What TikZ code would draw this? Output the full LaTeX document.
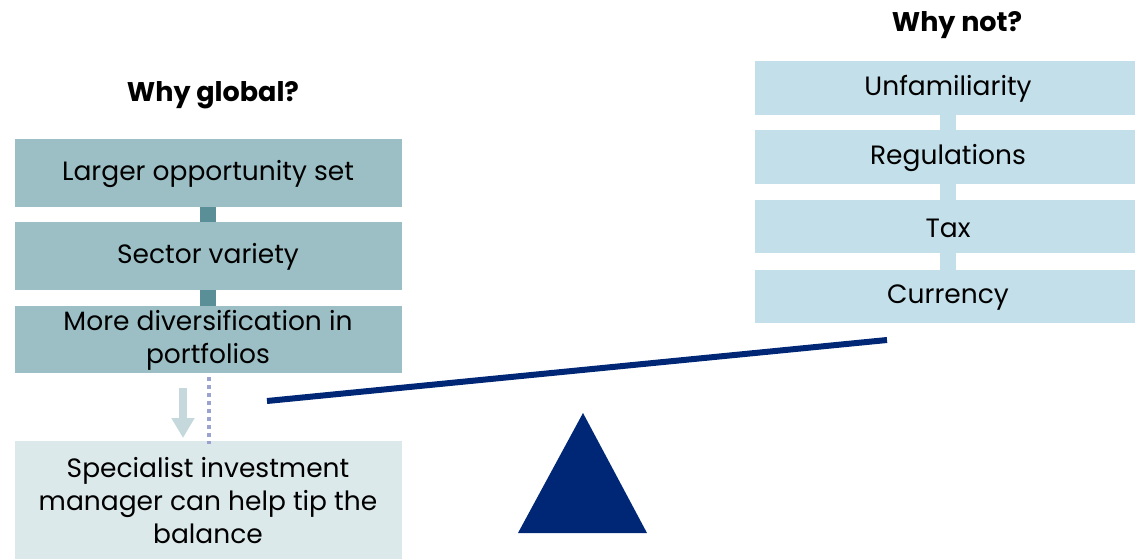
\documentclass[tikz,border=0pt]{standalone}
\usepackage{fontspec}
\setmainfont{Poppins}
\usetikzlibrary{arrows.meta}
\definecolor{leftbox}{HTML}{9BBFC5}
\definecolor{leftlink}{HTML}{5B8F98}
\definecolor{rightbox}{HTML}{C3DFEA}
\definecolor{tipbox}{HTML}{DCE9EB}
\definecolor{navy}{HTML}{002776}
\definecolor{dotc}{HTML}{9AA3CF}
\definecolor{arrc}{HTML}{C5D9DC}
\tikzset{
  x=1pt,y=-1pt,
  txt/.style={font=\fontsize{26.5}{33}\selectfont, align=center, text=black},
  lbox/.style={fill=leftbox, inner sep=0pt},
  rbox/.style={fill=rightbox, inner sep=0pt},
  head/.style={font=\fontsize{27}{30}\selectfont\bfseries},
}
\begin{document}
\begin{tikzpicture}
\useasboundingbox (0,0) rectangle (1135,559);
% left column
\node[head] (hg) at (213,95) {Why global?};
\fill[leftlink] (200,205) rectangle (216,224);
\fill[leftlink] (200,288) rectangle (216,308);
\fill[lbox] (15,139) rectangle (402,207);
\fill[lbox] (15,222) rectangle (402,290);
\fill[lbox] (15,306) rectangle (402,373);
\node[txt] (b1) at (208,174) {Larger opportunity set};
\node[txt] (b2) at (208,257) {Sector variety};
\node[txt] (b3) at (208,340) {More diversification in\\portfolios};
\fill[tipbox] (15,441) rectangle (402,559);
\node[txt] (b4) at (208,501) {Specialist investment\\manager can help tip the\\balance};
\coordinate (d1) at (209,377);
\coordinate (d2) at (209,444);
\draw[dotc, line width=4pt, dash pattern=on 4pt off 4pt] (d1) -- (d2);
\coordinate (a1) at (183,388);
\coordinate (a2) at (183,438);
\draw[arrc, line width=8pt, -{Triangle[width=22pt,length=20pt]}] (a1) -- (a2);
% right column
\node[head] (hn) at (957,25) {Why not?};
\fill[rightbox] (940,113) rectangle (956,132);
\fill[rightbox] (940,182) rectangle (956,202);
\fill[rightbox] (940,251) rectangle (956,272);
\fill[rbox] (755,61) rectangle (1135,115);
\fill[rbox] (755,130) rectangle (1135,184);
\fill[rbox] (755,200) rectangle (1135,253);
\fill[rbox] (755,270) rectangle (1135,323);
\node[txt] (r1) at (948,89) {Unfamiliarity};
\node[txt] (r2) at (948,158) {Regulations};
\node[txt] (r3) at (948,228) {Tax};
\node[txt] (r4) at (948,298) {Currency};
% balance
\coordinate (bl) at (267,401);
\coordinate (br) at (887,340);
\draw[navy, line width=6pt] (bl) -- (br);
\fill[navy] (583,413) -- (647,533) -- (518,533) -- cycle;
\end{tikzpicture}
\end{document}
